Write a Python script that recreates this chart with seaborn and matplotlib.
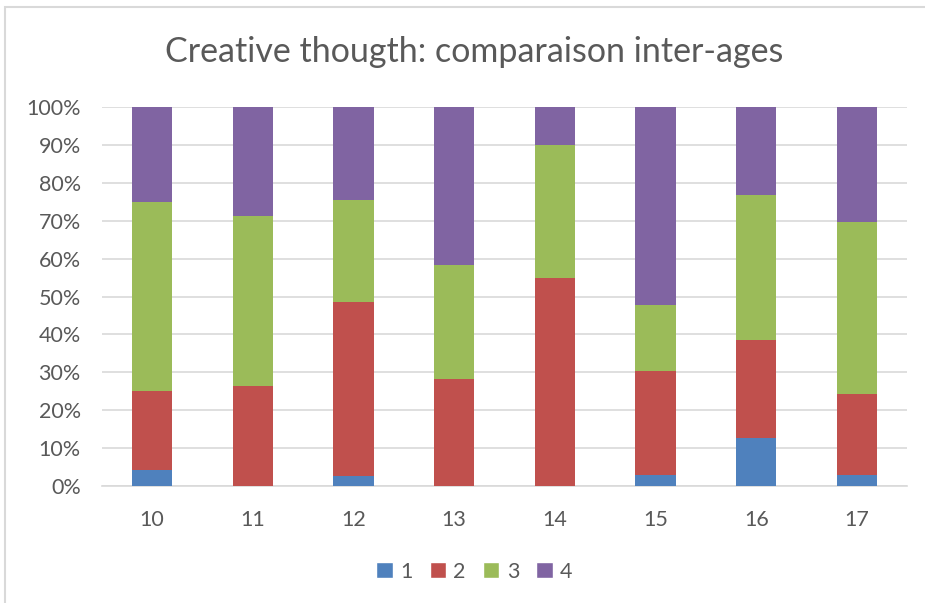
import numpy as np
import pandas as pd
import seaborn as sns
import matplotlib.pyplot as plt
from matplotlib.patches import Patch, Rectangle

# percentages per age group
ages = ['10', '11', '12', '13', '14', '15', '16', '17']
level_1 = [4.3, 0.0, 2.7, 0.0, 0.0, 2.9, 12.8, 3.0]
level_2 = [20.7, 26.5, 45.8, 28.3, 54.9, 27.4, 25.6, 21.2]
level_3 = [50.0, 44.8, 27.1, 30.0, 35.0, 17.5, 38.5, 45.5]
level_4 = [25.0, 28.7, 24.4, 41.7, 10.1, 52.2, 23.1, 30.3]
levels = ['1', '2', '3', '4']
colors = ['#4F81BD', '#C0504D', '#9BBB59', '#8064A2']

sns.set_theme(style='white')
plt.rcParams['font.family'] = ['Lato', 'DejaVu Sans']
text_col = '#595959'

df = pd.DataFrame({'age': ages, '1': level_1, '2': level_2, '3': level_3, '4': level_4})
# cumulative tops so the bars can be overlaid from the top series down
cum = df[levels].cumsum(axis=1)

fig = plt.figure(figsize=(9.25, 6.03), dpi=100)
ax = fig.add_axes([0.1098, 0.194, 0.8712, 0.6285])

for lev, col in reversed(list(zip(levels, colors))):
    sns.barplot(x=df['age'], y=cum[lev], color=col, width=0.4, saturation=1,
                ax=ax, zorder=3, linewidth=0)

ax.set_ylim(0, 100)
ax.set_xlim(-0.5, 7.5)
ax.set_yticks(np.arange(0, 101, 10))
ax.set_yticklabels([f'{v}%' for v in range(0, 101, 10)])
ax.set_xlabel('')
ax.set_ylabel('')
ax.yaxis.grid(True, color='#D9D9D9', linewidth=1.2, zorder=0)
ax.set_axisbelow(True)
for side in ['top', 'right', 'left']:
    ax.spines[side].set_visible(False)
ax.spines['bottom'].set_color('#D9D9D9')
ax.spines['bottom'].set_linewidth(1.2)
ax.tick_params(axis='y', length=0, pad=15, labelsize=15.5, labelcolor=text_col)
ax.tick_params(axis='x', length=0, pad=17, labelsize=15.5, labelcolor=text_col)

fig.text(0.513, 0.913, 'Creative thougth: comparaison inter-ages', ha='center', va='center',
         fontsize=24.5, color=text_col)

handles = [Patch(facecolor=c, label=l) for l, c in zip(levels, colors)]
fig.legend(handles=handles, loc='center', bbox_to_anchor=(0.513, 0.052), ncol=4,
           frameon=False, fontsize=15.5, labelcolor=text_col, handlelength=0.75,
           handleheight=0.75, handletextpad=0.35, columnspacing=0.8)

# chart area border
fig.patches.append(Rectangle((5 / 925, -0.05), 1.1, 1 - 7 / 603 + 0.05, transform=fig.transFigure,
                             fill=False, edgecolor='#D9D9D9', linewidth=1.5))

fig.savefig('out.png', dpi=100)
